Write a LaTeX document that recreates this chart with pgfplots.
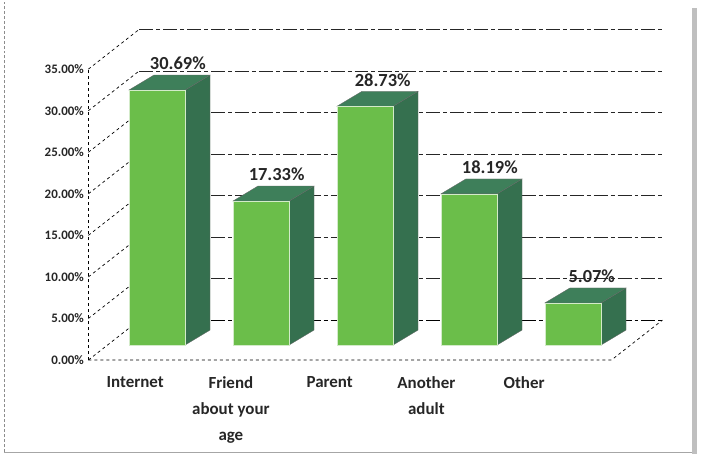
\documentclass[border=0pt]{standalone}
\usepackage{pgfplots}
\pgfplotsset{compat=1.18}
\usepackage{fontspec}
\setmainfont{Carlito}
\definecolor{barfront}{HTML}{6BBE4A}
\definecolor{barside}{HTML}{35704F}
\definecolor{bartop}{HTML}{3E7F5A}
\begin{document}
\begin{tikzpicture}
\useasboundingbox (-88.4bp,-96bp) rectangle (614.6bp,360bp);
\draw[black!45, line width=0.8pt, densely dashed] (-84bp,-92bp) -- (-84bp,358bp);
\draw[black!35, line width=0.6pt] (-84bp,-92bp) -- (606bp,-92bp);
\fill[black!25] (604bp,-94bp) rectangle (609bp,352bp);
\begin{axis}[
  at={(0,0)}, anchor=south west,
  scale only axis, width=578.2bp, height=332.4bp,
  xmin=-0.66, xmax=4.9, ymin=0, ymax=40,
  axis line style={draw=none}, tick style={draw=none},
  ytick={0,5,...,35},
  yticklabel={\pgfmathprintnumber[fixed,fixed zerofill,precision=2]{\tick}\%},
  /pgf/number format/assume math mode=true,
  yticklabel style={font=\fontsize{13}{14}\selectfont\bfseries, text=black!85, xshift=-1pt},
  xtick={-0.21,0.71,1.66,2.59,3.53},
  xticklabels={Internet,{Friend\\about your\\age},Parent,{Another\\adult},Other},
  xticklabel style={align=center, font=\fontsize{17}{26}\selectfont\bfseries, text=black!85, yshift=-13pt},
  clip=false,
]
% floor
\addplot[black, dashed, line width=0.7pt] coordinates {(-0.66,0) (4.37,0) (4.86,4.8)};
\addplot[black, line width=0.6pt, dash pattern=on 14pt off 3pt on 4pt off 3pt] coordinates {(-0.17,4.8) (4.86,4.8)};
% front-left edge
\addplot[black, dashed, line width=0.7pt] coordinates {(-0.66,0) (-0.66,35)};
% left wall diagonals
\addplot[black, dashed, line width=0.7pt] coordinates {(-0.66,0) (-0.17,4.8)};
\addplot[black, dashed, line width=0.7pt] coordinates {(-0.66,5) (-0.17,9.8)};
\addplot[black, dashed, line width=0.7pt] coordinates {(-0.66,10) (-0.17,14.8)};
\addplot[black, dashed, line width=0.7pt] coordinates {(-0.66,15) (-0.17,19.8)};
\addplot[black, dashed, line width=0.7pt] coordinates {(-0.66,20) (-0.17,24.8)};
\addplot[black, dashed, line width=0.7pt] coordinates {(-0.66,25) (-0.17,29.8)};
\addplot[black, dashed, line width=0.7pt] coordinates {(-0.66,30) (-0.17,34.8)};
\addplot[black, dashed, line width=0.7pt] coordinates {(-0.66,35) (-0.17,39.8)};
% back wall gridlines
\addplot[black!85, line width=0.6pt, dash pattern=on 14pt off 3pt on 4pt off 3pt] coordinates {(-0.17,9.8) (4.86,9.8)};
\addplot[black!85, line width=0.6pt, dash pattern=on 14pt off 3pt on 4pt off 3pt] coordinates {(-0.17,14.8) (4.86,14.8)};
\addplot[black!85, line width=0.6pt, dash pattern=on 14pt off 3pt on 4pt off 3pt] coordinates {(-0.17,19.8) (4.86,19.8)};
\addplot[black!85, line width=0.6pt, dash pattern=on 14pt off 3pt on 4pt off 3pt] coordinates {(-0.17,24.8) (4.86,24.8)};
\addplot[black!85, line width=0.6pt, dash pattern=on 14pt off 3pt on 4pt off 3pt] coordinates {(-0.17,29.8) (4.86,29.8)};
\addplot[black!85, line width=0.6pt, dash pattern=on 14pt off 3pt on 4pt off 3pt] coordinates {(-0.17,34.8) (4.86,34.8)};
\addplot[black!85, line width=0.6pt, dash pattern=on 14pt off 3pt on 4pt off 3pt] coordinates {(-0.17,39.8) (4.86,39.8)};
% Internet 30.69
\addplot[fill=barside, draw=black!60, line width=0.3pt] coordinates {(0.27,1.8) (0.51,3.6) (0.51,34.29) (0.27,32.49)} --cycle;
\addplot[fill=bartop, draw=black!60, line width=0.3pt] coordinates {(-0.27,32.49) (0.27,32.49) (0.51,34.29) (-0.03,34.29)} --cycle;
\addplot[fill=barfront, draw=white!70!barfront, line width=0.6pt] coordinates {(-0.27,1.8) (0.27,1.8) (0.27,32.49) (-0.27,32.49)} --cycle;
% Friend 17.33
\addplot[fill=barside, draw=black!60, line width=0.3pt] coordinates {(1.27,1.8) (1.51,3.6) (1.51,20.93) (1.27,19.13)} --cycle;
\addplot[fill=bartop, draw=black!60, line width=0.3pt] coordinates {(0.73,19.13) (1.27,19.13) (1.51,20.93) (0.97,20.93)} --cycle;
\addplot[fill=barfront, draw=white!70!barfront, line width=0.6pt] coordinates {(0.73,1.8) (1.27,1.8) (1.27,19.13) (0.73,19.13)} --cycle;
% Parent 28.73
\addplot[fill=barside, draw=black!60, line width=0.3pt] coordinates {(2.27,1.8) (2.51,3.6) (2.51,32.33) (2.27,30.53)} --cycle;
\addplot[fill=bartop, draw=black!60, line width=0.3pt] coordinates {(1.73,30.53) (2.27,30.53) (2.51,32.33) (1.97,32.33)} --cycle;
\addplot[fill=barfront, draw=white!70!barfront, line width=0.6pt] coordinates {(1.73,1.8) (2.27,1.8) (2.27,30.53) (1.73,30.53)} --cycle;
% Another adult 18.19
\addplot[fill=barside, draw=black!60, line width=0.3pt] coordinates {(3.27,1.8) (3.51,3.6) (3.51,21.79) (3.27,19.99)} --cycle;
\addplot[fill=bartop, draw=black!60, line width=0.3pt] coordinates {(2.73,19.99) (3.27,19.99) (3.51,21.79) (2.97,21.79)} --cycle;
\addplot[fill=barfront, draw=white!70!barfront, line width=0.6pt] coordinates {(2.73,1.8) (3.27,1.8) (3.27,19.99) (2.73,19.99)} --cycle;
% Other 5.07
\addplot[fill=barside, draw=black!60, line width=0.3pt] coordinates {(4.27,1.8) (4.51,3.6) (4.51,8.67) (4.27,6.87)} --cycle;
\addplot[fill=bartop, draw=black!60, line width=0.3pt] coordinates {(3.73,6.87) (4.27,6.87) (4.51,8.67) (3.97,8.67)} --cycle;
\addplot[fill=barfront, draw=white!70!barfront, line width=0.6pt] coordinates {(3.73,1.8) (4.27,1.8) (4.27,6.87) (3.73,6.87)} --cycle;
% value labels
\addplot[draw=none, mark=none, point meta=explicit symbolic, nodes near coords,
  nodes near coords style={anchor=south, inner sep=1pt, yshift=4pt, font=\fontsize{18.5}{19}\selectfont\bfseries, text=black!85}]
  coordinates {(0.20,34.29)[30.69\%] (1.15,20.93)[17.33\%] (2.17,32.33)[28.73\%] (3.20,21.79)[18.19\%] (4.18,8.67)[5.07\%]};
\end{axis}
\end{tikzpicture}
\end{document}
